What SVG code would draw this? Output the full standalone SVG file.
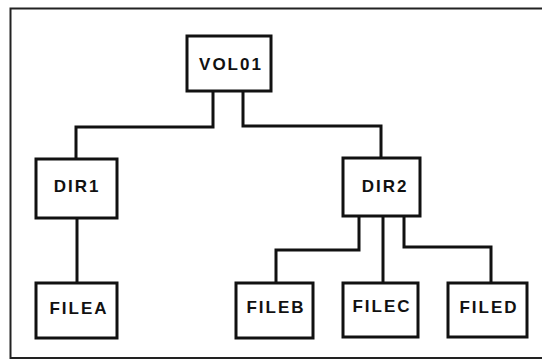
<svg xmlns="http://www.w3.org/2000/svg" width="542" height="362" viewBox="0 0 542 362">
<style>
.box{fill:#fff;stroke:#111;stroke-width:3}
.lbl{font-family:"Liberation Sans",Arial,sans-serif;font-size:17px;font-weight:bold;fill:#111;text-anchor:middle;letter-spacing:2px}
.con{fill:none;stroke:#111;stroke-width:3;stroke-linejoin:miter}
</style>
<rect x="0" y="0" width="542" height="362" fill="#fff"/>
<rect x="10.5" y="8.5" width="545" height="349.5" fill="none" stroke="#222" stroke-width="2"/>
<g id="connectors">
<path class="con" d="M213 91 V127 H76 V159"/>
<path class="con" d="M243 91 V126 H381 V158"/>
<path class="con" d="M77 218 V283"/>
<path class="con" d="M359 216 V250 H276 V283"/>
<path class="con" d="M383 216 V283"/>
<path class="con" d="M404 216 V247 H491 V283"/>
</g>
<g id="VOL01"><rect class="box" x="187" y="36" width="84" height="55"/><text class="lbl" x="231" y="70">VOL01</text></g>
<g id="DIR1"><rect class="box" x="36" y="159" width="81" height="59"/><text class="lbl" x="77" y="192">DIR1</text></g>
<g id="DIR2"><rect class="box" x="343" y="158" width="77" height="58"/><text class="lbl" x="385" y="192">DIR2</text></g>
<g id="FILEA"><rect class="box" x="36" y="283" width="81" height="55"/><text class="lbl" x="79" y="314">FILEA</text></g>
<g id="FILEB"><rect class="box" x="236" y="283" width="77" height="55"/><text class="lbl" x="276" y="313">FILEB</text></g>
<g id="FILEC"><rect class="box" x="343" y="283" width="75" height="54"/><text class="lbl" x="382" y="312">FILEC</text></g>
<g id="FILED"><rect class="box" x="448" y="283" width="79" height="54"/><text class="lbl" x="489" y="313">FILED</text></g>
</svg>
